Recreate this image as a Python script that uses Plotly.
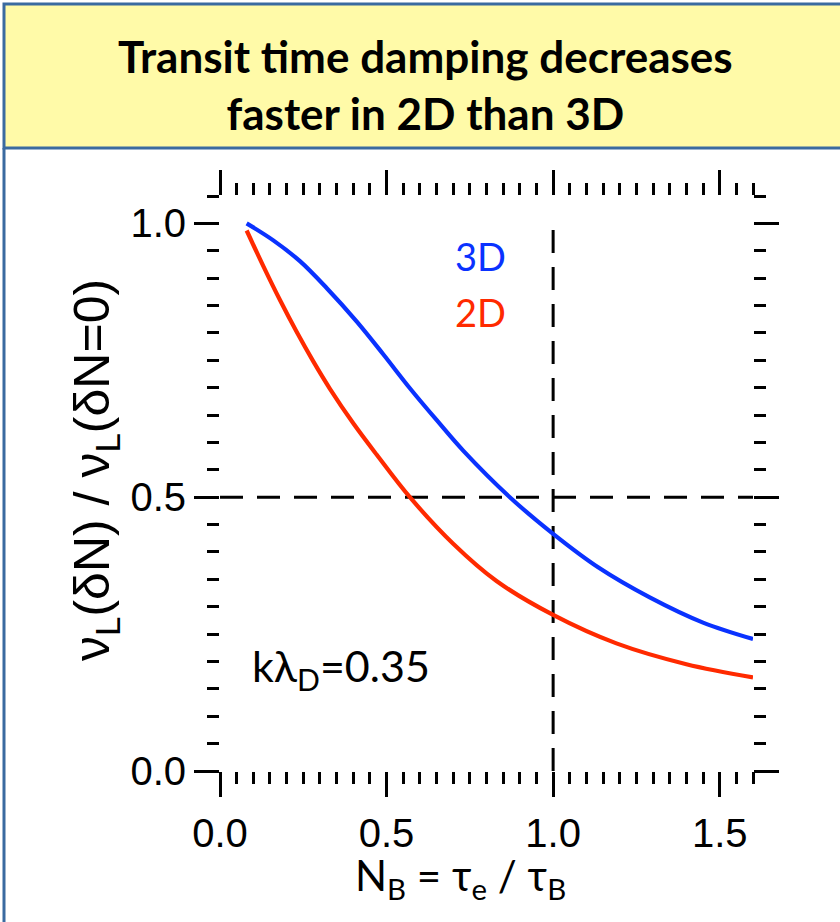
import plotly.graph_objects as go

# ---- data ----
x_3d = [0.08, 0.16, 0.24, 0.32, 0.41, 0.49, 0.57, 0.65, 0.73, 0.87, 1.0, 1.135, 1.29, 1.45, 1.6]
y_3d = [1.0, 0.969, 0.931, 0.882, 0.821, 0.761, 0.699, 0.641, 0.585, 0.5, 0.433, 0.372, 0.317, 0.271, 0.241]

x_2d = [0.08, 0.13, 0.18, 0.23, 0.28, 0.33, 0.40, 0.47, 0.57, 0.70, 0.83, 1.0, 1.19, 1.40, 1.6]
y_2d = [0.987, 0.922, 0.860, 0.802, 0.748, 0.698, 0.635, 0.578, 0.500, 0.415, 0.347, 0.285, 0.233, 0.195, 0.171]

ref_y = 0.5   # horizontal dashed reference
ref_x = 1.0   # vertical dashed reference
ref_x_top = 1.0
x_range = [0, 1.6]
y_range = [0, 1.05]

title_lines = ["Transit time damping decreases", "faster in 2D than 3D"]
x_title = "N<sub>B</sub> = τ<sub>e</sub> / τ<sub>B</sub>"
y_title = "ν<sub>L</sub>(δN) / ν<sub>L</sub>(δN=0)"
note = "kλ<sub>D</sub>=0.35"

BLUE = "#0a32ff"
RED = "#ff2a00"
BORDER = "#3a6aa0"

# plot area in pixels
L, R, T, B = 220, 753, 196, 771
W, H = 840, 922


def px(x):
    return (x - L) / (R - L)


def py(y):
    return (B - y) / (B - T)


fig = go.Figure()
fig.add_trace(go.Scatter(x=x_3d, y=y_3d, mode="lines", line=dict(color=BLUE, width=4.2, shape="spline"),
                         showlegend=False, hoverinfo="skip"))
fig.add_trace(go.Scatter(x=x_2d, y=y_2d, mode="lines", line=dict(color=RED, width=4.2, shape="spline"),
                         showlegend=False, hoverinfo="skip"))

tickfont = dict(family="Liberation Sans", size=40, color="black")
common = dict(showgrid=False, zeroline=False, showline=False, ticks="outside",
              tickcolor="black", tickwidth=2.5, mirror="ticks", fixedrange=True)

fig.update_layout(
    width=W, height=H, autosize=False,
    margin=dict(l=L, r=W - R, t=T, b=H - B, pad=0),
    paper_bgcolor="white", plot_bgcolor="white",
    xaxis=dict(range=x_range, tick0=0, dtick=0.5, ticklen=25, tickformat=".1f",
               tickfont=tickfont, ticklabelstandoff=2,
               minor=dict(dtick=0.05, tick0=0, ticklen=12, tickwidth=2.5, tickcolor="black", ticks="outside"),
               **common),
    yaxis=dict(range=y_range, tick0=0, dtick=0.5, ticklen=25, tickformat=".1f",
               tickfont=tickfont, ticklabelstandoff=0,
               minor=dict(dtick=0.05, tick0=0, ticklen=12, tickwidth=2.5, tickcolor="black", ticks="outside"),
               **common),
    xaxis2=dict(range=x_range, overlaying="x", anchor="y", side="bottom", tick0=0, dtick=0.1,
                ticklen=17, showticklabels=False, **common),
    yaxis2=dict(range=y_range, overlaying="y", anchor="x", side="left", tick0=0, dtick=0.1,
                ticklen=17, showticklabels=False, **common),
)

shapes = [
    # yellow title box
    dict(type="rect", xref="paper", yref="paper", x0=px(4), x1=px(850), y0=py(4), y1=py(148),
         fillcolor="#fffaa8", line=dict(color=BORDER, width=3), layer="below"),
    # left border of white panel
    dict(type="line", xref="paper", yref="paper", x0=px(4), x1=px(4), y0=py(148), y1=py(930),
         line=dict(color=BORDER, width=3), layer="below"),
    # dashed reference lines
    dict(type="line", xref="x", yref="y", x0=x_range[0], x1=x_range[1], y0=ref_y, y1=ref_y,
         line=dict(color="black", width=3, dash="23px,14px"), layer="below"),
    dict(type="line", xref="x", yref="y", x0=ref_x, x1=ref_x, y0=y_range[0], y1=ref_x_top,
         line=dict(color="black", width=3, dash="23px,14px"), layer="below"),
]
fig.update_layout(shapes=shapes)

ann = [
    dict(text="<b>" + "<br>".join(title_lines) + "</b>", x=px(425), y=py(85), xref="paper", yref="paper",
         showarrow=False, xanchor="center", yanchor="middle",
         font=dict(family="Lato", size=44, color="black")),
    dict(text=y_title, x=px(95), y=py(470), xref="paper", yref="paper", textangle=-90,
         showarrow=False, xanchor="center", yanchor="middle",
         font=dict(family="Liberation Sans", size=50, color="black")),
    dict(text=x_title, x=px(460), y=py(878), xref="paper", yref="paper",
         showarrow=False, xanchor="center", yanchor="middle",
         font=dict(family="Lato", size=42, color="black")),
    dict(text=note, x=px(341), y=py(668), xref="paper", yref="paper",
         showarrow=False, xanchor="center", yanchor="middle",
         font=dict(family="Lato", size=43, color="black")),
    dict(text="3D", x=px(480), y=py(256), xref="paper", yref="paper",
         showarrow=False, xanchor="center", yanchor="middle",
         font=dict(family="Lato", size=38, color=BLUE)),
    dict(text="2D", x=px(480), y=py(312), xref="paper", yref="paper",
         showarrow=False, xanchor="center", yanchor="middle",
         font=dict(family="Lato", size=38, color=RED)),
]
fig.update_layout(annotations=ann)

fig.write_html("out.html")
